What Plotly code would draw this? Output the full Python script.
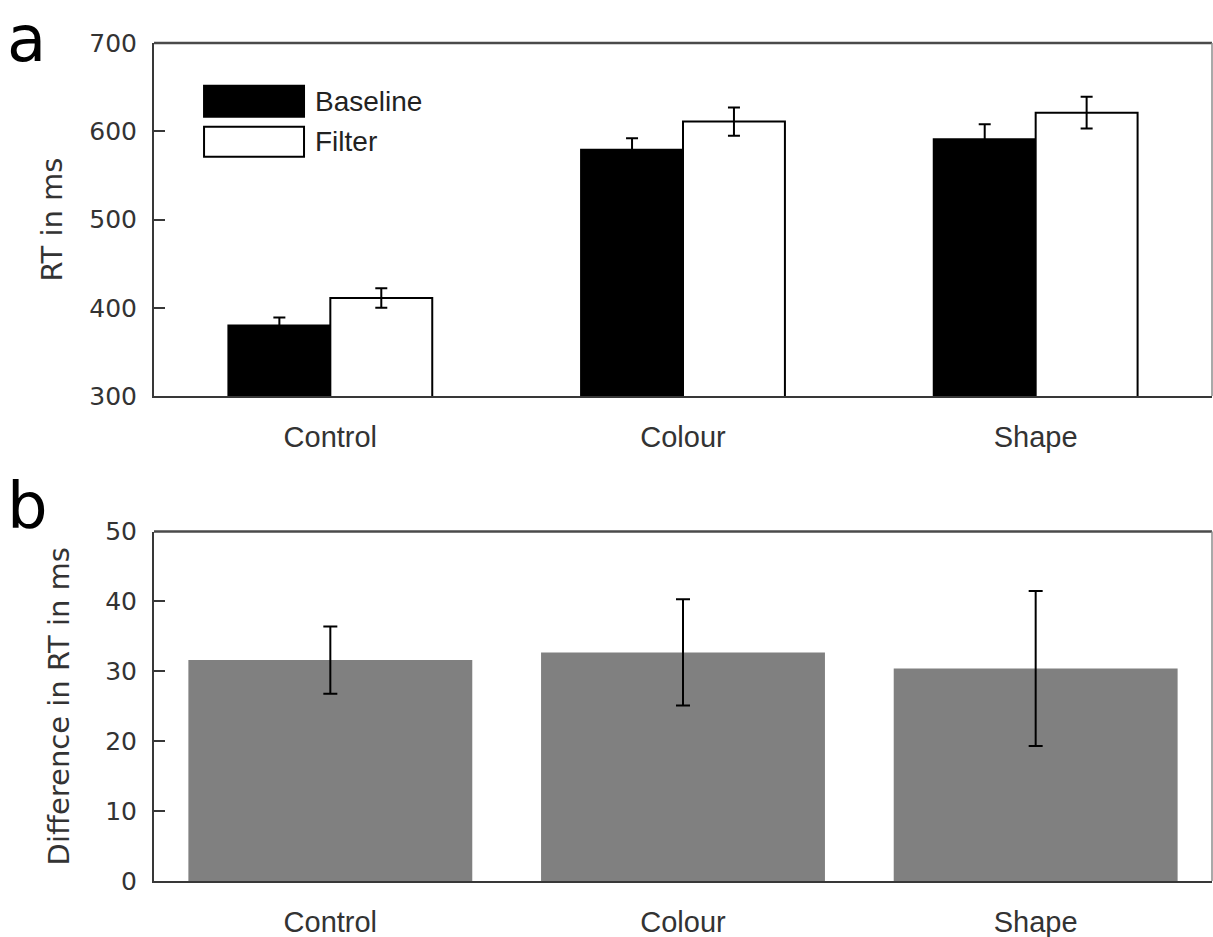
import plotly.graph_objects as go

# Reaction-time data per search condition
conditions = ["Control", "Colour", "Shape"]
baseline_rt = [380, 579, 591]
baseline_err = [9, 13, 17]
filter_rt = [411, 611, 621]
filter_err = [11, 16, 18]

# Filter minus baseline difference
diff_rt = [31.6, 32.7, 30.4]
diff_err = [4.8, 7.6, 11.1]

rt_ticks = [300, 400, 500, 600, 700]
diff_ticks = [0, 10, 20, 30, 40, 50]

W, H = 1213, 937
AXIS_COLOR = "#383838"
TICK_FONT = dict(family="DejaVu Sans", size=25, color="#333333")
TITLE_FONT = dict(family="DejaVu Sans", size=29, color="#333333")
CAT_FONT = dict(family="Liberation Sans, Arial", size=29, color="#333333")

x_dom = [154 / W, 1212 / W]
ya_dom = [(H - 396) / H, (H - 43) / H]
yb_dom = [(H - 881) / H, (H - 531.5) / H]

fig = go.Figure()

fig.add_trace(go.Bar(
    x=conditions, y=baseline_rt, name="Baseline",
    marker=dict(color="black", line=dict(color="black", width=2)),
    error_y=dict(type="data", array=baseline_err, color="black", thickness=2, width=6),
    xaxis="x", yaxis="y", showlegend=False,
))
fig.add_trace(go.Bar(
    x=conditions, y=filter_rt, name="Filter",
    marker=dict(color="white", line=dict(color="black", width=2)),
    error_y=dict(type="data", array=filter_err, color="black", thickness=2, width=6),
    xaxis="x", yaxis="y", showlegend=False,
))
fig.add_trace(go.Bar(
    x=conditions, y=diff_rt, name="Difference", width=0.805,
    marker=dict(color="#808080", line=dict(width=0)),
    error_y=dict(type="data", array=diff_err, color="black", thickness=2, width=7),
    xaxis="x2", yaxis="y2", showlegend=False,
))

common_x = dict(
    domain=x_dom, range=[-0.5, 2.5], showline=True, linecolor=AXIS_COLOR,
    linewidth=2, mirror=False, ticks="", tickfont=CAT_FONT,
    ticklabelstandoff=14, showgrid=False, zeroline=False, automargin=False,
)
common_y = dict(
    showline=True, linecolor=AXIS_COLOR, linewidth=2, mirror=False,
    ticks="inside", ticklen=11, tickwidth=2, tickcolor=AXIS_COLOR,
    tickfont=TICK_FONT, ticklabelstandoff=10, showgrid=False,
    zeroline=False, title_font=TITLE_FONT, automargin=False,
)

fig.update_layout(
    width=W, height=H,
    margin=dict(l=0, r=0, t=0, b=0, autoexpand=False),
    paper_bgcolor="white", plot_bgcolor="white",
    barmode="group", bargap=0.422, bargroupgap=0,
    xaxis=dict(**common_x, anchor="y"),
    yaxis=dict(**common_y, domain=ya_dom, range=[300, 700],
               tickvals=rt_ticks, anchor="x",
               title=dict(text="RT in ms", standoff=18)),
    xaxis2=dict(**common_x, anchor="y2"),
    yaxis2=dict(**common_y, domain=yb_dom, range=[0, 50],
                tickvals=diff_ticks, anchor="x2",
                title=dict(text="Difference in RT in ms", standoff=27)),
)

# Frame: darker top edge, lighter right edge
for xr, yr in [("x domain", "y domain"), ("x2 domain", "y2 domain")]:
    fig.add_shape(type="line", xref=xr, yref=yr, x0=0, x1=1, y0=1, y1=1,
                  line=dict(color="#4a4a4a", width=2.5))
    fig.add_shape(type="line", xref=xr, yref=yr, x0=1, x1=1, y0=0, y1=1,
                  line=dict(color="#8c8c8c", width=1.5))

# Legend drawn as large swatches inside panel a
legend_items = [("Baseline", "black", 0.791, 0.879), ("Filter", "white", 0.678, 0.763)]
for label, fill, y0, y1 in legend_items:
    fig.add_shape(type="rect", xref="x domain", yref="y domain",
                  x0=0.0473, x1=0.1418, y0=y0, y1=y1,
                  fillcolor=fill, line=dict(color="black", width=2))
    fig.add_annotation(text=label, xref="x domain", yref="y domain",
                       x=0.150, y=(y0 + y1) / 2, xanchor="left", yanchor="middle",
                       showarrow=False, font=dict(family="Liberation Sans, Arial",
                                                  size=28, color="#222222"))

# Panel letters
LETTER_FONT = dict(family="DejaVu Sans", size=64, color="black")
fig.add_annotation(text="a", xref="paper", yref="paper", x=5 / W, y=1,
                   xanchor="left", yanchor="top", showarrow=False, font=LETTER_FONT)
fig.add_annotation(text="b", xref="paper", yref="paper", x=5 / W, y=(H - 506) / H,
                   xanchor="left", yanchor="middle", showarrow=False, font=LETTER_FONT)

fig.write_html("out.html")
